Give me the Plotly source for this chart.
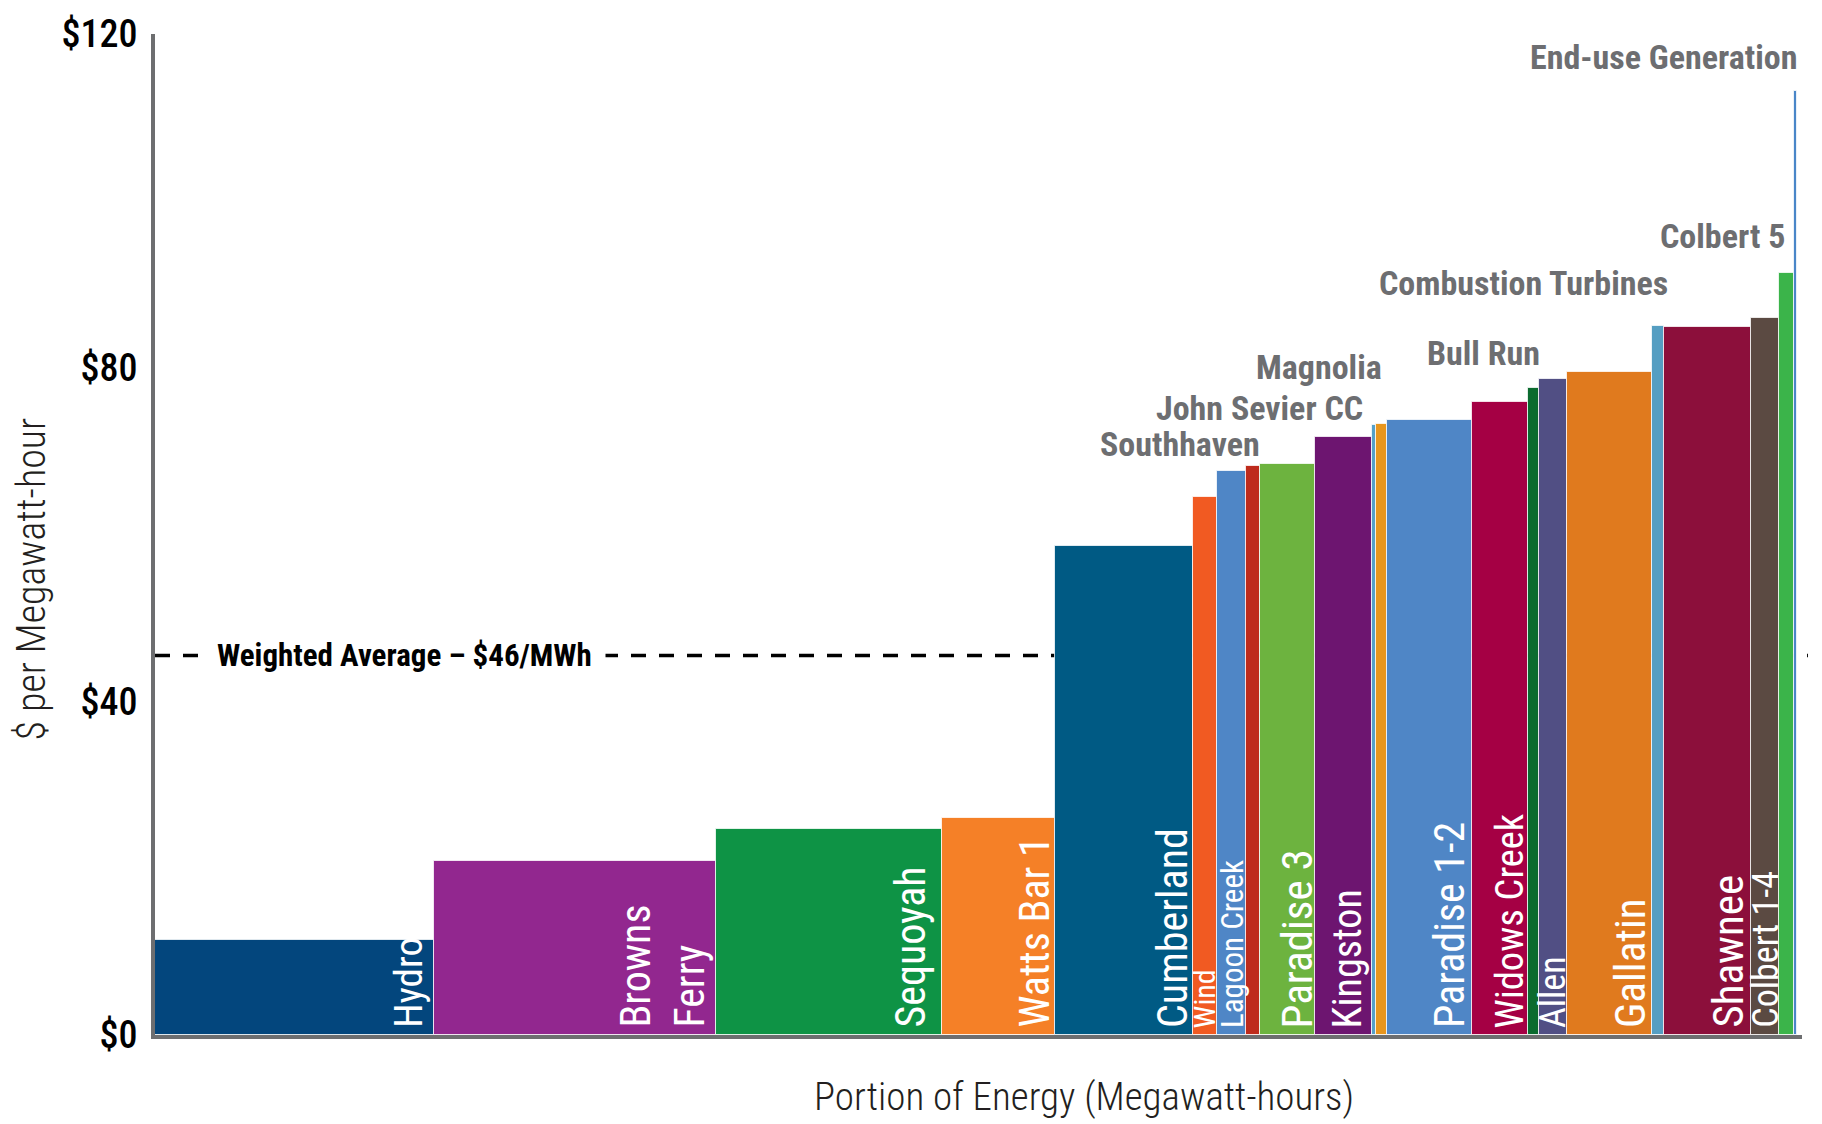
import numpy as np
import plotly.graph_objects as go

# ---------------- data ----------------
plants = ["Hydro", "Browns Ferry", "Sequoyah", "Watts Bar 1", "Cumberland", "Wind",
          "Lagoon Creek", "Southhaven", "Paradise 3", "Kingston", "John Sevier CC",
          "Magnolia", "Paradise 1-2", "Widows Creek", "Bull Run", "Allen", "Gallatin",
          "Combustion Turbines", "Shawnee", "Colbert 1-4", "Colbert 5", "End-use Generation"]
# portion of energy (% of MWh) -> bar widths
energy_share = [17.0, 17.17, 13.76, 6.88, 8.40, 1.46, 1.77, 0.85, 3.35, 3.47, 0.24,
                0.67, 5.18, 3.41, 0.67, 1.71, 5.18, 0.73, 5.30, 1.71, 0.91, 0.18]
# $ per MWh -> bar heights
cost_per_mwh = [11.4, 20.9, 24.7, 26.0, 58.6, 64.5, 67.6, 68.2, 68.4, 71.7, 73.1,
                73.2, 73.7, 75.9, 77.6, 78.7, 79.5, 85.0, 84.9, 86.0, 91.4, 113.2]
weighted_average = 45.5
weighted_average_label = "Weighted Average \u2013 $46/MWh"
y_tick_values = [0, 40, 80, 120]
y_tick_labels = ["$0", "$40", "$80", "$120"]
x_title = "Portion of Energy (Megawatt-hours)"
y_title = "$ per Megawatt-hour"

# ---------------- styles ----------------
FONT = "Roboto Condensed, Arial Narrow, sans-serif"
bar_colors = {
    "Hydro": "#03467D", "Browns Ferry": "#92278F", "Sequoyah": "#0E9345",
    "Watts Bar 1": "#F58027", "Cumberland": "#005A84", "Wind": "#F15A22",
    "Lagoon Creek": "#4F86C6", "Southhaven": "#BE2B1C", "Paradise 3": "#6DB33F",
    "Kingston": "#6D1570", "John Sevier CC": "#55A0C8", "Magnolia": "#E8961E",
    "Paradise 1-2": "#4F86C6", "Widows Creek": "#A50044", "Bull Run": "#0B6B2F",
    "Allen": "#514F84", "Gallatin": "#E07A1E", "Combustion Turbines": "#559EC2",
    "Shawnee": "#8C0F3B", "Colbert 1-4": "#5B4A42", "Colbert 5": "#3BB44A",
    "End-use Generation": "#4A86C8",
}
# inside (rotated) labels: text, font size, px offset of label centre left of bar's right edge
inside_labels = {
    "Hydro": ("Hydro", 39, 26),
    "Browns Ferry": ("Browns<br>Ferry", 42, 54),
    "Sequoyah": ("Sequoyah", 42, 32),
    "Watts Bar 1": ("Watts Bar 1", 42, 21),
    "Cumberland": ("Cumberland", 42, 21),
    "Wind": ("Wind", 30, 12),
    "Lagoon Creek": ("Lagoon Creek", 31, 14),
    "Paradise 3": ("Paradise 3", 43, 18),
    "Kingston": ("Kingston", 40, 24),
    "Paradise 1-2": ("Paradise 1-2", 42, 23),
    "Widows Creek": ("Widows Creek", 38.5, 18),
    "Allen": ("Allen", 36, 14),
    "Gallatin": ("Gallatin", 43, 22),
    "Shawnee": ("Shawnee", 43, 24),
    "Colbert 1-4": ("Colbert 1-4", 36, 14),
}
# outside labels: y position ($ scale, label centre) and x shift (px) from bar right edge
outside_labels = {
    "Southhaven": (70.8, 2),
    "John Sevier CC": (75.2, -11),
    "Magnolia": (80.1, -3),
    "Bull Run": (81.8, 3),
    "Combustion Turbines": (90.2, 6),
    "Colbert 5": (95.8, -6),
    "End-use Generation": (117.2, 2),
}

widths = np.array(energy_share)
right_edges = np.cumsum(widths)
centers = right_edges - widths / 2
total = float(right_edges[-1])

fig = go.Figure()
fig.add_trace(go.Bar(
    x=centers, y=cost_per_mwh, width=widths,
    marker=dict(color=[bar_colors[p] for p in plants],
                line=dict(color="rgba(255,255,255,0.75)", width=1)),
    hoverinfo="skip", showlegend=False,
))

annotations = []
for i, p in enumerate(plants):
    if p in inside_labels:
        txt, size, off = inside_labels[p]
        annotations.append(dict(
            x=right_edges[i], y=0, xref="x", yref="y", text=txt, textangle=-90,
            xanchor="center", yanchor="bottom", xshift=-off, yshift=5,
            align="left", showarrow=False,
            font=dict(family=FONT, size=size, color="white")))
    if p in outside_labels:
        yv, sh = outside_labels[p]
        annotations.append(dict(
            x=right_edges[i], y=yv, xref="x", yref="y", text=p,
            xanchor="right", yanchor="middle", xshift=sh, showarrow=False,
            font=dict(family=FONT, size=34, color="#6D6E71", weight="bold")))

annotations.append(dict(
    x=0.1512, y=weighted_average, xref="paper", yref="y", text=weighted_average_label,
    xanchor="center", yanchor="middle", showarrow=False, bgcolor="white", borderpad=13,
    font=dict(family=FONT, size=31, color="black", weight="bold")))
annotations.append(dict(
    x=0.564, y=-0.0624, xref="paper", yref="paper", text=x_title,
    xanchor="center", yanchor="middle", showarrow=False,
    font=dict(family=FONT, size=39, color="#231F20", weight=300)))
annotations.append(dict(
    x=-0.0747, y=0.456, xref="paper", yref="paper", text=y_title, textangle=-90,
    xanchor="center", yanchor="middle", showarrow=False,
    font=dict(family=FONT, size=40, color="#231F20", weight=300)))

shapes = [dict(type="line", xref="paper", yref="y", x0=0.0, x1=1.0036,
               y0=weighted_average, y1=weighted_average, layer="below",
               line=dict(color="black", width=3.5, dash="15px,13px"))]

fig.update_layout(
    width=1822, height=1124,
    margin=dict(l=155, r=20, t=26, b=89),
    paper_bgcolor="white", plot_bgcolor="white",
    bargap=0,
    xaxis=dict(range=[0, total * 1.003], showline=True, linecolor="#6D6E70", linewidth=4,
               showticklabels=False, showgrid=False, zeroline=False, ticks=""),
    yaxis=dict(range=[0, 120], tickvals=y_tick_values, ticktext=y_tick_labels,
               showline=True, linecolor="#6D6E70", linewidth=4, showgrid=False,
               zeroline=False, ticks="", ticklabelstandoff=6,
               tickfont=dict(family=FONT, size=38, color="black", weight=500)),
    annotations=annotations, shapes=shapes,
)

fig.write_html("out.html")
